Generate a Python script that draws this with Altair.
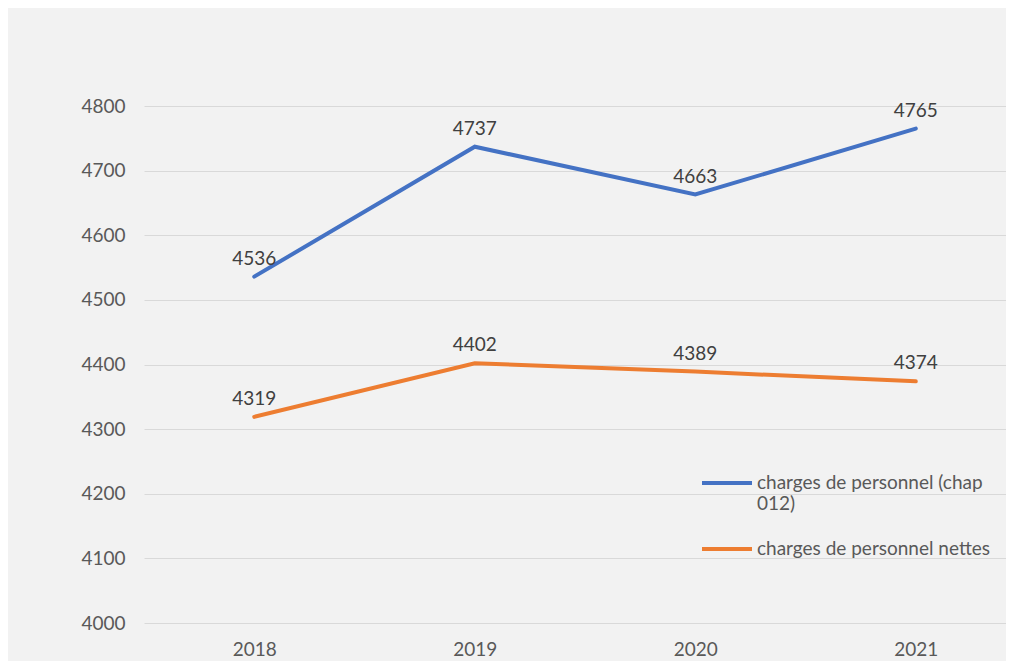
import altair as alt
import pandas as pd

years = ["2018", "2019", "2020", "2021"]
series_names = ["charges de personnel (chap 012)", "charges de personnel nettes"]
chap012 = [4536, 4737, 4663, 4765]
nettes = [4319, 4402, 4389, 4374]
colors = ["#4472C4", "#ED7D31"]

rows = []
for y, v in zip(years, chap012):
    rows.append({"year": y, "series": series_names[0], "value": v})
for y, v in zip(years, nettes):
    rows.append({"year": y, "series": series_names[1], "value": v})
df = pd.DataFrame(rows)

FONT = "Lato"
FS = 19

x = alt.X("year:O", title=None, sort=years,
          scale=alt.Scale(type="point", padding=0.4546, align=0.55),
          axis=alt.Axis(labelAngle=0, domain=False, ticks=False, labelPadding=17,
                        labelFontSize=FS, labelColor="#595959", labelFont=FONT, grid=False))
y = alt.Y("value:Q", title=None,
          scale=alt.Scale(domain=[4000, 4800], nice=False, zero=False),
          axis=alt.Axis(values=list(range(4000, 4801, 100)), format="d", domain=False, ticks=False,
                        labelPadding=19, labelFontSize=FS, labelColor="#595959",
                        labelFont=FONT, gridColor="#d9d9d9", gridWidth=1.2))
color = alt.Color("series:N", sort=series_names,
                  scale=alt.Scale(domain=series_names, range=colors),
                  legend=alt.Legend(title=None, orient="none", legendX=556, legendY=350,
                                    symbolType="stroke", symbolSize=2500, symbolStrokeWidth=4,
                                    labelFontSize=FS, labelColor="#595959", labelFont=FONT,
                                    labelOffset=3, rowPadding=8, labelLimit=400,
                                    labelExpr="datum.label == 'charges de personnel (chap 012)' ? ['charges de personnel (chap', '012)'] : datum.label"))

lines = alt.Chart(df).mark_line(strokeWidth=4, strokeCap="round").encode(x=x, y=y, color=color)
labels = alt.Chart(df).mark_text(dy=-18, fontSize=FS, color="#404040", font=FONT).encode(
    x=x, y=y, text=alt.Text("value:Q", format="d"))

chart = alt.layer(lines, labels).properties(
    width=862, height=517,
    autosize=alt.AutoSizeParams(type="none"),
    padding={"left": 136, "top": 98, "right": 0, "bottom": 38},
    background="#f2f2f2",
).configure_view(stroke=None)

chart.save("out.html", embed_options={"renderer": "svg", "actions": False})
